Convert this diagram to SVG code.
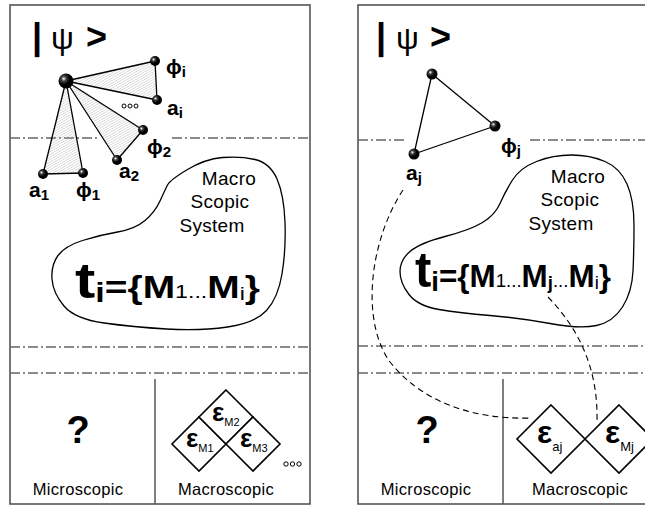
<svg xmlns="http://www.w3.org/2000/svg" width="645" height="506" viewBox="0 0 645 506">
<defs>
<radialGradient id="ball" cx="0.35" cy="0.35" r="0.65">
<stop offset="0" stop-color="#fff"/>
<stop offset="0.25" stop-color="#444"/>
<stop offset="0.6" stop-color="#000"/>
</radialGradient>
<pattern id="hatch" width="2.2" height="2.2" patternUnits="userSpaceOnUse" patternTransform="rotate(60)">
<line x1="0" y1="0" x2="0" y2="2.2" stroke="#b0b0b0" stroke-width="0.8"/>
</pattern>
</defs>
<style>
.frame{fill:#fff;stroke:#555;stroke-width:1.6}
.dd{stroke:#666;stroke-width:1.4;stroke-dasharray:10 3 2 3;fill:none}
.div{stroke:#555;stroke-width:1.5}
.bond{stroke:#000;stroke-width:1.3;fill:none}
.blob{fill:#fff;stroke:#000;stroke-width:1.3}
.dash{stroke:#000;stroke-width:1.1;stroke-dasharray:6 4;fill:none}
.dia{fill:#fff;stroke:#000;stroke-width:1.6}
.hat{fill:url(#hatch);stroke:none}
.b{fill:url(#ball)}
.dots{fill:#fff;stroke:#000;stroke-width:1}
text{font-family:"Liberation Sans",Arial,sans-serif;fill:#000}
.lbl{font-size:21px;font-weight:bold}
.sub{font-size:15px;font-weight:bold}
.mac{font-size:19px;letter-spacing:0.3px}
.cap{font-size:16.5px;letter-spacing:0.3px}
.q{font-size:38px;font-weight:bold}
.ket{font-size:36px}
.eps{font-weight:bold}
.fm{font-weight:bold}
</style>

<g id="panel-left">
<rect class="frame" x="10" y="5" width="300" height="499"/>
<line class="dd" x1="10" y1="138" x2="100" y2="138"/>
<line class="dd" x1="172" y1="138" x2="310" y2="138"/>
<line class="dd" x1="10" y1="347" x2="310" y2="347"/>
<line class="dd" x1="10" y1="373" x2="310" y2="373"/>
<line class="div" x1="155" y1="379" x2="155" y2="504"/>
</g>
<g id="panel-right">
<rect class="frame" x="358" y="5" width="300" height="499"/>
<line class="dd" x1="358" y1="140" x2="404" y2="140"/>
<line class="dd" x1="530" y1="140" x2="645" y2="140"/>
<line class="dd" x1="358" y1="346" x2="645" y2="346"/>
<line class="dd" x1="358" y1="373" x2="645" y2="373"/>
<line class="div" x1="503" y1="379" x2="503" y2="504"/>
</g>

<g id="ket-left"><text class="ket" x="32" y="49" font-weight="bold">|<tspan x="51" font-size="32" font-weight="normal">ψ</tspan><tspan x="86">&gt;</tspan></text></g>
<g id="ket-right"><text class="ket" x="376" y="49" font-weight="bold">|<tspan x="396" font-size="32" font-weight="normal">ψ</tspan><tspan x="430">&gt;</tspan></text></g>

<g id="macro-left">
<path class="blob" d="M167.5,185 Q170,180 187.5,169.5 Q205,159 222.5,157.5 Q240,156 255,159.5 Q270,163 277,179 Q284,195 285,222.5 Q286,250 282,274 Q278,298 266.5,310.5 Q255,323 227.5,327 Q200,331 166.5,329 Q133,327 104,323 Q75,319 64,306 Q53,293 52,279 Q51,265 58,255.5 Q65,246 82.5,240.5 Q100,235 117.5,232 Q135,229 145,220.5 Q155,212 160,201 Q165,190 167.5,185 Z"/>
<text class="mac" x="229" y="185" text-anchor="middle">Macro</text>
<text class="mac" x="220" y="208" text-anchor="middle">Scopic</text>
<text class="mac" x="212" y="232" text-anchor="middle">System</text>
<text class="fm" x="75" y="298" textLength="185" lengthAdjust="spacingAndGlyphs"><tspan font-size="50">t</tspan><tspan font-size="28" dy="4">i</tspan><tspan font-size="32" dy="-4">={M</tspan><tspan font-size="19" font-weight="normal">1...</tspan><tspan font-size="32">M</tspan><tspan font-size="19" font-weight="normal" dy="2">i</tspan><tspan font-size="32" dy="-2">}</tspan></text>
</g>

<g id="macro-right">
<path class="blob" d="M500,203.5 Q505,192 512.5,180 Q520,168 536.5,161.5 Q553,155 571.5,155 Q590,155 605,161.5 Q620,168 627,184 Q634,200 634,225 Q634,250 633,271 Q632,292 622.5,307 Q613,322 596.5,325.5 Q580,329 550,323.5 Q520,318 490,315.5 Q460,313 439,309.5 Q418,306 409,294.5 Q400,283 400,271.5 Q400,260 410,251.5 Q420,243 445,236.5 Q470,230 482.5,222.5 Q495,215 500,203.5 Z"/>
<text class="mac" x="578" y="183" text-anchor="middle">Macro</text>
<text class="mac" x="570" y="206" text-anchor="middle">Scopic</text>
<text class="mac" x="561" y="230" text-anchor="middle">System</text>
<text class="fm" x="415" y="287" textLength="196" lengthAdjust="spacingAndGlyphs"><tspan font-size="50">t</tspan><tspan font-size="28" dy="4">i</tspan><tspan font-size="32" dy="-4">={M</tspan><tspan font-size="19" font-weight="normal">1...</tspan><tspan font-size="32">M</tspan><tspan font-size="19" dy="2">j</tspan><tspan font-size="19" font-weight="normal" dy="-2">...</tspan><tspan font-size="32">M</tspan><tspan font-size="19" font-weight="normal" dy="2">i</tspan><tspan font-size="32" dy="-2">}</tspan></text>
</g>

<g id="connectors">
<polygon class="hat" points="66,81 155,61 157,100"/>
<polygon class="hat" points="66,81 143,130 117,160"/>
<polygon class="hat" points="66,81 43,174 83,173"/>
<line class="bond" x1="66" y1="81" x2="155" y2="61"/>
<line class="bond" x1="66" y1="81" x2="157" y2="100"/>
<line class="bond" x1="155" y1="61" x2="157" y2="100"/>
<line class="bond" x1="66" y1="81" x2="143" y2="130"/>
<line class="bond" x1="66" y1="81" x2="117" y2="160"/>
<line class="bond" x1="143" y1="130" x2="117" y2="160"/>
<line class="bond" x1="66" y1="81" x2="43" y2="174"/>
<line class="bond" x1="66" y1="81" x2="83" y2="173"/>
<line class="bond" x1="43" y1="174" x2="83" y2="173"/>
<line class="bond" x1="432" y1="74" x2="495" y2="126"/>
<line class="bond" x1="432" y1="74" x2="414" y2="154"/>
<line class="bond" x1="495" y1="126" x2="414" y2="154"/>
<path class="dash" d="M403,190 C370,240 360,320 390,362 C420,400 470,420 532,418"/>
<path class="dash" d="M548,297 C580,330 598,370 597,420"/>
</g>

<g id="atoms-left">
<circle class="b" cx="66" cy="81" r="7.5"/>
<circle class="b" cx="155" cy="61" r="5"/>
<circle class="b" cx="157" cy="100" r="5"/>
<circle class="b" cx="143" cy="130" r="5"/>
<circle class="b" cx="117" cy="160" r="5"/>
<circle class="b" cx="43" cy="174" r="5"/>
<circle class="b" cx="83" cy="173" r="5"/>
<circle class="dots" cx="124" cy="106" r="2"/>
<circle class="dots" cx="130" cy="106" r="2"/>
<circle class="dots" cx="136" cy="106" r="2"/>
<text class="lbl" x="166" y="74">ϕ<tspan class="sub" dy="3">i</tspan></text>
<text class="lbl" x="167" y="115">a<tspan class="sub" dy="3">i</tspan></text>
<text class="lbl" x="147" y="154">ϕ<tspan class="sub" dy="3">2</tspan></text>
<text class="lbl" x="119" y="178">a<tspan class="sub" dy="3">2</tspan></text>
<text class="lbl" x="29" y="197">a<tspan class="sub" dy="3">1</tspan></text>
<text class="lbl" x="76" y="197">ϕ<tspan class="sub" dy="3">1</tspan></text>
</g>

<g id="atoms-right">
<circle class="b" cx="432" cy="74" r="5.5"/>
<circle class="b" cx="495" cy="126" r="5.5"/>
<circle class="b" cx="414" cy="154" r="5.5"/>
<text class="lbl" x="501" y="153">ϕ<tspan class="sub" dy="3">j</tspan></text>
<text class="lbl" x="406" y="180">a<tspan class="sub" dy="3">j</tspan></text>
</g>

<g id="micro-left">
<text class="q" x="78" y="443" text-anchor="middle">?</text>
<text class="cap" x="78" y="495" text-anchor="middle">Microscopic</text>
</g>
<g id="macro-states-left">
<polygon class="dia" points="199,417 226,444 199,471 172,444"/>
<polygon class="dia" points="226,390 253,417 226,444 199,417"/>
<polygon class="dia" points="253,417 280,444 253,471 226,444"/>
<text class="eps" x="186" y="447" font-size="26">ε<tspan font-size="11" font-weight="normal" dy="5">M1</tspan></text>
<text class="eps" x="212" y="421" font-size="26">ε<tspan font-size="11" font-weight="normal" dy="5">M2</tspan></text>
<text class="eps" x="240" y="447" font-size="26">ε<tspan font-size="11" font-weight="normal" dy="5">M3</tspan></text>
<circle class="dots" cx="286" cy="464" r="2.2"/>
<circle class="dots" cx="292.5" cy="464" r="2.2"/>
<circle class="dots" cx="299" cy="464" r="2.2"/>
<text class="cap" x="226" y="495" text-anchor="middle">Macroscopic</text>
</g>

<g id="micro-right">
<text class="q" x="427" y="443" text-anchor="middle">?</text>
<text class="cap" x="426" y="495" text-anchor="middle">Microscopic</text>
</g>
<g id="macro-states-right">
<polygon class="dia" points="551,405 585,439 551,473 517,439"/>
<polygon class="dia" points="619,405 653,439 619,473 585,439"/>
<text class="eps" x="537" y="443" font-size="32">ε<tspan font-size="13" font-weight="normal" dy="8">aj</tspan></text>
<text class="eps" x="605" y="443" font-size="32">ε<tspan font-size="13" font-weight="normal" dy="8">Mj</tspan></text>
<text class="cap" x="580" y="495" text-anchor="middle">Macroscopic</text>
</g>
</svg>
